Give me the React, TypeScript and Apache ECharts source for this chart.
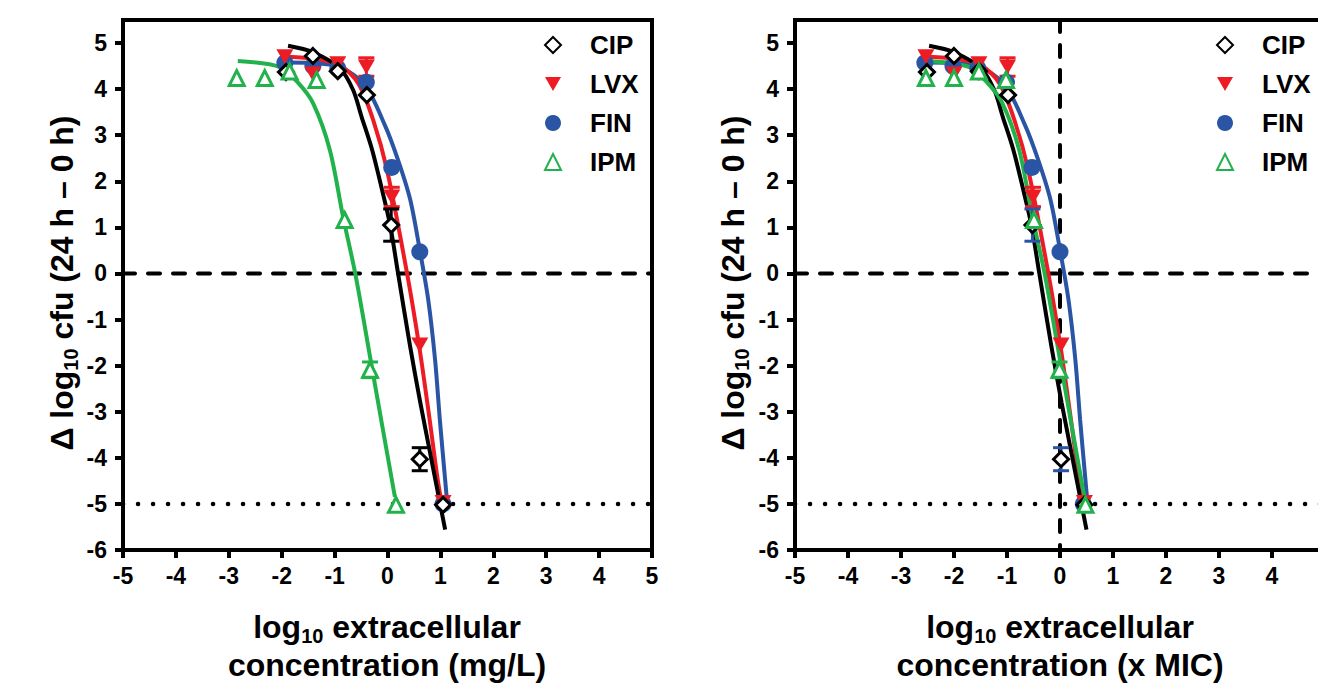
import React, { useEffect, useRef } from 'react';
import * as echarts from 'echarts';

const FONT = '"Liberation Sans", Arial, Helvetica, sans-serif';

const xTicks = [-5, -4, -3, -2, -1, 0, 1, 2, 3, 4, 5];
const xTicksRight = [-5, -4, -3, -2, -1, 0, 1, 2, 3, 4];
const yTicks = [-6, -5, -4, -3, -2, -1, 0, 1, 2, 3, 4, 5];
const drugs = ['CIP', 'LVX', 'FIN', 'IPM'];

// log10 extracellular concentration (mg/L) and Δlog10 cfu (24 h – 0 h)
const cipX = [-1.92, -1.41, -0.94, -0.39, 0.07, 0.61, 1.05];
const cipY = [4.37, 4.72, 4.39, 3.87, 1.05, -4.03, -5.02];
const cipErr = [0, 0, 0, 0, 0.35, 0.25, 0];
const lvxX = [-1.94, -1.41, -0.94, -0.4, 0.08, 0.61, 1.05];
const lvxY = [4.7, 4.33, 4.55, 4.48, 1.66, -1.55, -4.97];
const lvxErr = [0, 0, 0, 0.2, 0.21, 0, 0];
const finX = [-1.94, -1.41, -0.94, -0.4, 0.08, 0.61, 1.05];
const finY = [4.57, 4.5, 4.45, 4.15, 2.3, 0.47, -5.0];
const finErr = [0, 0, 0, 0, 0, 0, 0];
const ipmX = [-2.85, -2.32, -1.85, -1.34, -0.81, -0.33, 0.16];
const ipmY = [4.24, 4.24, 4.38, 4.2, 1.16, -2.09, -5.02];
const ipmErr = [0, 0, 0, 0, 0, 0.17, 0];

// log10 MIC (mg/L) used for the x MIC panel
const logMic = { CIP: 0.59, LVX: 0.59, FIN: 0.61, IPM: -0.32 };

// fitted curves (mg/L scale)
const cipCurve = [[-1.88, 4.94], [-1.41, 4.8], [-0.9, 4.45], [-0.65, 3.98], [-0.49, 3.4], [-0.29, 2.68], [-0.1, 1.8], [0.05, 1.05], [0.2, 0.0], [0.43, -1.6], [0.62, -2.8], [0.82, -3.98], [1.09, -5.56]];
const lvxCurve = [[-1.99, 4.7], [-1.41, 4.66], [-0.9, 4.52], [-0.55, 4.12], [-0.27, 3.33], [-0.01, 2.25], [0.37, 0.0], [0.61, -1.66], [0.8, -3.2], [0.95, -4.48], [1.06, -5.2]];
const finCurve = [[-1.95, 4.58], [-1.41, 4.57], [-0.9, 4.48], [-0.43, 4.09], [-0.05, 3.22], [0.2, 2.46], [0.43, 1.6], [0.61, 0.51], [0.77, -0.57], [0.9, -1.88], [0.99, -3.18], [1.09, -4.48], [1.13, -5.0]];
const ipmCurve = [[-2.83, 4.61], [-2.03, 4.48], [-1.7, 4.15], [-1.41, 3.7], [-1.09, 2.68], [-0.84, 1.23], [-0.61, 0.0], [-0.3, -2.0], [-0.1, -3.3], [0.14, -4.85]];

const COLORS = { CIP: '#000000', LVX: '#ED1C24', FIN: '#2A55A5', IPM: '#22B24C' };
const DOWN_TRIANGLE = 'path://M0,0L16,0L8,14Z';

function pts(xs: number[], ys: number[], shift: number) {
  return xs.map((x, i) => [+(x - shift).toFixed(3), ys[i]]);
}
function shiftCurve(c: number[][], shift: number) {
  return c.map((p) => [+(p[0] - shift).toFixed(3), p[1]]);
}

function errSeries(xs: number[], ys: number[], errs: number[], shift: number, color: string, idx: number) {
  const data: number[][] = [];
  xs.forEach((x, i) => {
    if (errs[i]) data.push([+(x - shift).toFixed(3), ys[i] - errs[i], ys[i] + errs[i]]);
  });
  return {
    type: 'custom',
    xAxisIndex: idx,
    yAxisIndex: idx,
    silent: true,
    z: 3,
    data,
    encode: { x: 0, y: [1, 2] },
    renderItem: (params: any, api: any) => {
      const x = api.value(0);
      const a = api.coord([x, api.value(1)]);
      const b = api.coord([x, api.value(2)]);
      const hw = 8;
      const st = { stroke: color, lineWidth: 3 };
      return {
        type: 'group',
        children: [
          { type: 'line', shape: { x1: a[0], y1: a[1], x2: b[0], y2: b[1] }, style: st },
          { type: 'line', shape: { x1: a[0] - hw, y1: a[1], x2: a[0] + hw, y2: a[1] }, style: st },
          { type: 'line', shape: { x1: b[0] - hw, y1: b[1], x2: b[0] + hw, y2: b[1] }, style: st },
        ],
      };
    },
  };
}

function curveSeries(name: string, c: number[][], idx: number) {
  return {
    type: 'line',
    name: name + ' fit',
    xAxisIndex: idx,
    yAxisIndex: idx,
    data: c,
    showSymbol: false,
    symbol: 'none',
    smooth: 0.3,
    silent: true,
    z: 2,
    lineStyle: { color: (COLORS as any)[name], width: 4 },
  };
}

function scatterSeries(name: string, data: number[][], idx: number) {
  const base: any = {
    type: 'scatter',
    name,
    xAxisIndex: idx,
    yAxisIndex: idx,
    data,
    z: 4,
    silent: true,
  };
  if (name === 'CIP') {
    base.symbol = 'diamond';
    base.symbolSize = 15;
    base.itemStyle = { color: '#fff', borderColor: '#000', borderWidth: 3, opacity: 1 };
  } else if (name === 'LVX') {
    base.symbol = DOWN_TRIANGLE;
    base.symbolSize = [17, 15];
    base.itemStyle = { color: COLORS.LVX, opacity: 1 };
  } else if (name === 'FIN') {
    base.symbol = 'circle';
    base.symbolSize = 17;
    base.itemStyle = { color: COLORS.FIN, opacity: 1 };
  } else {
    base.symbol = 'triangle';
    base.symbolSize = 15;
    base.itemStyle = { color: '#fff', borderColor: COLORS.IPM, borderWidth: 3, opacity: 1 };
  }
  return base;
}

function refLine(data: number[][], idx: number, dotted: boolean) {
  return {
    type: 'line',
    xAxisIndex: idx,
    yAxisIndex: idx,
    data,
    symbol: 'none',
    silent: true,
    z: 1,
    lineStyle: dotted
      ? { color: '#000', width: 4.5, type: [0.1, 14.9], cap: 'round' }
      : { color: '#000', width: 4, type: [12, 13], cap: 'round' },
  };
}

const axisLabelStyle = { color: '#000', fontSize: 23, fontWeight: 'bold', fontFamily: FONT };

function xAxis(idx: number) {
  return {
    type: 'value',
    gridIndex: idx,
    min: -5,
    max: 5,
    interval: 1,
    axisLine: { show: true, onZero: false, lineStyle: { color: '#000', width: 4 } },
    axisTick: { show: true, length: 8, lineStyle: { color: '#000', width: 4 }, customValues: xTicks },
    axisLabel: { ...axisLabelStyle, margin: 14, customValues: idx === 1 ? xTicksRight : xTicks },
    splitLine: { show: false },
  };
}
function yAxis(idx: number) {
  return {
    type: 'value',
    gridIndex: idx,
    min: -6,
    max: 5.5,
    axisLine: { show: true, onZero: false, lineStyle: { color: '#000', width: 4 } },
    axisTick: { show: true, length: 8, lineStyle: { color: '#000', width: 4 }, customValues: yTicks },
    axisLabel: { ...axisLabelStyle, margin: 16, customValues: yTicks },
    splitLine: { show: false },
  };
}

function legend(left: number) {
  return {
    data: drugs,
    orient: 'vertical',
    left,
    top: 32,
    padding: 0,
    itemWidth: 16,
    itemHeight: 16,
    itemGap: 13,
    selectedMode: false,
    textStyle: { color: '#000', fontSize: 26, fontWeight: 'bold', fontFamily: FONT, lineHeight: 26, padding: [0, 0, 0, 24] },
  };
}

const titleRich = (size: number) => ({
  a: { fontSize: size, fontWeight: 'bold', fontFamily: FONT, lineHeight: 38, color: '#000' },
  s: { fontSize: Math.round(size * 0.62), fontWeight: 'bold', fontFamily: FONT, lineHeight: 26, verticalAlign: 'bottom', color: '#000' },
});

function yTitle(x: number) {
  return {
    type: 'text',
    x,
    y: 283,
    rotation: Math.PI / 2,
    style: {
      text: '{a|Δ log}{s|10}{a| cfu (24 h – 0 h)}',
      rich: titleRich(32),
      align: 'center',
      verticalAlign: 'middle',
      fill: '#000',
    },
  };
}
function xTitle(x: number, unit: string) {
  return {
    type: 'text',
    x,
    y: 646,
    style: {
      text: '{a|log}{s|10}{a| extracellular}\n{a|concentration (' + unit + ')}',
      rich: titleRich(32),
      align: 'center',
      verticalAlign: 'middle',
      fill: '#000',
    },
  };
}

export default function App() {
  const ref = useRef<HTMLDivElement>(null);
  useEffect(() => {
    const chart = echarts.init(ref.current!, undefined, { renderer: 'svg' });
    const series: any[] = [];
    [0, 1].forEach((idx) => {
      series.push(refLine([[-5, 0], [5, 0]], idx, false));
      series.push(refLine([[-5, -5], [5, -5]], idx, true));
      if (idx === 1) series.push(refLine([[0, 5.5], [0, -6]], idx, false));
      const s = (d: string) => (idx === 1 ? (logMic as any)[d] : 0);
      series.push(curveSeries('FIN', shiftCurve(finCurve, s('FIN')), idx));
      series.push(curveSeries('LVX', shiftCurve(lvxCurve, s('LVX')), idx));
      series.push(curveSeries('CIP', shiftCurve(cipCurve, s('CIP')), idx));
      series.push(curveSeries('IPM', shiftCurve(ipmCurve, s('IPM')), idx));
      series.push(errSeries(finX, finY, finErr, s('FIN'), COLORS.FIN, idx));
      series.push(errSeries(lvxX, lvxY, lvxErr, s('LVX'), COLORS.LVX, idx));
      series.push(errSeries(cipX, cipY, cipErr, s('CIP'), idx === 1 ? COLORS.FIN : COLORS.CIP, idx));
      series.push(errSeries(ipmX, ipmY, ipmErr, s('IPM'), COLORS.IPM, idx));
      series.push(scatterSeries('FIN', pts(finX, finY, s('FIN')), idx));
      series.push(scatterSeries('LVX', pts(lvxX, lvxY, s('LVX')), idx));
      series.push(scatterSeries('CIP', pts(cipX, cipY, s('CIP')), idx));
      series.push(scatterSeries('IPM', pts(ipmX, ipmY, s('IPM')), idx));
    });
    chart.setOption({
      animation: false,
      backgroundColor: '#fff',
      grid: [
        { left: 123, top: 20, width: 529, height: 530, show: true, borderColor: '#000', borderWidth: 4, containLabel: false, outerBoundsMode: 'none' },
        { left: 795, top: 20, width: 530, height: 530, show: true, borderColor: '#000', borderWidth: 4, containLabel: false, outerBoundsMode: 'none' },
      ],
      xAxis: [xAxis(0), xAxis(1)],
      yAxis: [yAxis(0), yAxis(1)],
      legend: [legend(544), legend(1216)],
      series,
      graphic: [yTitle(62), yTitle(733), xTitle(387, 'mg/L'), xTitle(1060, 'x MIC')],
    });
    return () => chart.dispose();
  }, []);
  return <div ref={ref} style={{ position: 'fixed', left: 0, top: 0, width: 1318, height: 685 }} />;
}
